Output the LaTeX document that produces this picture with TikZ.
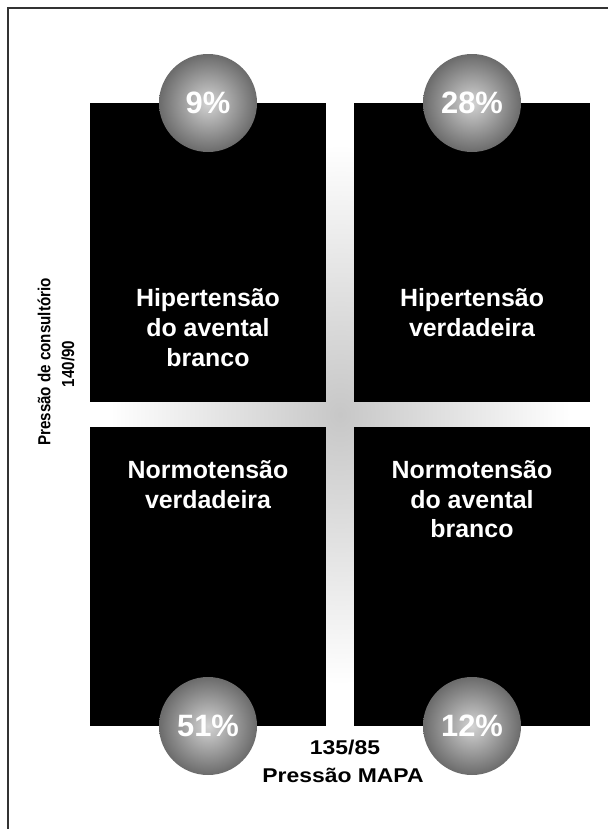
\documentclass[tikz,border=0pt]{standalone}
\usepackage{fontspec}
\setmainfont{Liberation Sans}
\pgfdeclareradialshading{bubble}{\pgfpoint{0bp}{0bp}}{color(0bp)=(black!17); color(25bp)=(black!58); color(50bp)=(black!58)}
\pgfdeclareradialshading{glow}{\pgfpoint{0bp}{0bp}}{color(0bp)=(black!22); color(25bp)=(white); color(50bp)=(white)}
\tikzset{
  pct/.style={circle,minimum size=98bp,inner sep=0pt,shade,shading=bubble,
    text=white,font=\fontsize{31}{31}\selectfont\bfseries},
  quad/.style={text=white,align=center,anchor=north,inner sep=0pt,
    font=\fontsize{25}{30}\selectfont\bfseries},
  axis/.style={inner sep=0pt,font=\fontsize{20}{24}\selectfont\bfseries},
  axisleft/.style={rotate=90,inner sep=0pt,font=\fontsize{17.5}{21}\selectfont\bfseries}
}
\begin{document}
\begin{tikzpicture}[x=1bp,y=-1bp]
\useasboundingbox (0,0) rectangle (608,829);
\def\boxTL{(90,103) rectangle (326,402)}
\def\boxTR{(354,103) rectangle (590,402)}
\def\boxBL{(90,427) rectangle (326,726)}
\def\boxBR{(354,427) rectangle (590,726)}
		% frame, open at right and bottom
		\draw[line width=2bp,black!80] (8,829) -- (8,8) -- (608,8);
		% soft grey cross between the four boxes
		\shade[shading=glow] (340,414.5) ellipse (230 and 270);
		\fill[black] \boxTL;
		\fill[black] \boxTR;
		\fill[black] \boxBL;
		\fill[black] \boxBR;
    \node[quad] (whitecoat) at (208,288) {Hipertensão\\do avental\\branco};
    \node[quad] (truehyp) at (472,288) {Hipertensão\\verdadeira};
    \node[quad] (truenorm) at (208,460) {Normotensão\\verdadeira};
    \node[quad] (masked) at (472,460) {Normotensão\\do avental\\branco};
    \node[pct] (pTL) at (208,103) {9\%};
    \node[pct] (pTR) at (472,103) {28\%};
    \node[pct] (pBL) at (208,726) {51\%};
    \node[pct] (pBR) at (472,726) {12\%};
    \node[axisleft] (office) at (44,362) {\scalebox{0.87}[1]{Pressão de consultório}};
    \node[axisleft] (officecut) at (68,364) {\scalebox{0.87}[1]{140/90}};
    \node[axis] (mapacut) at (345,747) {\scalebox{1.15}[1]{135/85}};
    \node[axis] (mapa) at (343,775) {\scalebox{1.15}[1]{Pressão MAPA}};
\end{tikzpicture}
\end{document}
